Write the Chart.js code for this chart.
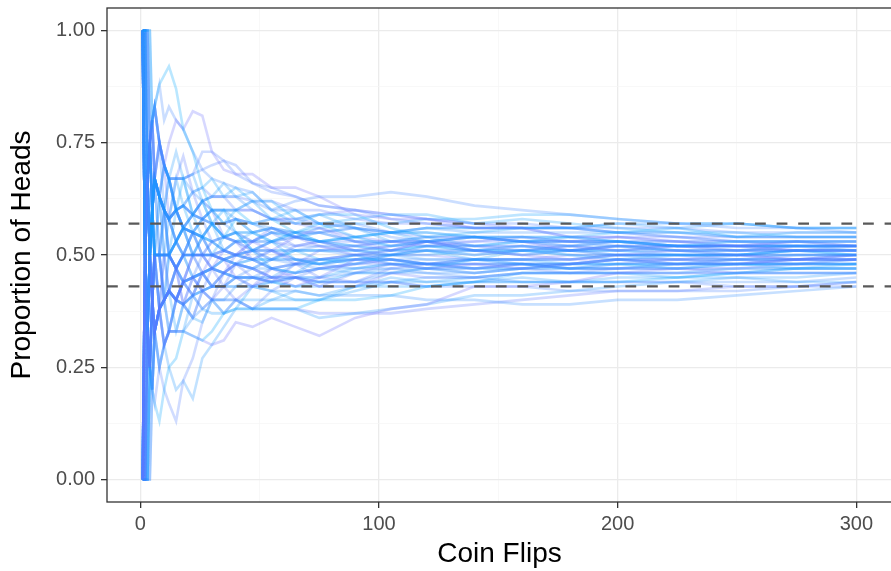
<!DOCTYPE html>
<html>
<head>
<meta charset="utf-8">
<script src="https://cdn.jsdelivr.net/npm/chart.js@4.4.1/dist/chart.umd.min.js"></script>
<style>
    html, body { margin: 0; padding: 0; background: #fff; overflow: hidden; }
    #wrap { width: 900px; height: 571px; }
</style>
</head>
<body>
<div id="wrap"><canvas id="chart" width="900" height="571"></canvas></div>
<script>
        // number of flips at which each simulated run is sampled
        const flips = [1, 2, 3, 4, 5, 6, 8, 10, 12, 15, 18, 22, 26, 30, 35, 40, 47, 55, 65, 75, 90, 105, 120, 140, 160, 180, 200, 225, 250, 275, 300];

        // proportion of heads for each run, one row per run (same order as flips)
        const walks = [
            [1,1,1,1,.8,.83,.88,.9,.92,.87,.78,.73,.65,.6,.6,.6,.57,.58,.55,.53,.54,.55,.55,.54,.54,.54,.53,.52,.53,.53,.53],
            [1,.5,.67,.75,.8,.67,.75,.7,.75,.8,.78,.82,.81,.73,.69,.68,.68,.65,.65,.63,.59,.58,.58,.56,.56,.54,.54,.53,.52,.53,.53],
            [0,0,0,.25,.2,.17,.13,.2,.25,.27,.33,.32,.31,.33,.37,.38,.38,.38,.38,.4,.4,.41,.43,.44,.44,.44,.44,.45,.46,.46,.46],
            [0,.5,.33,.25,.4,.33,.38,.3,.33,.33,.33,.32,.31,.3,.31,.35,.34,.36,.34,.32,.36,.38,.39,.43,.43,.44,.46,.46,.46,.46,.46],
            [1,.5,.33,.5,.6,.5,.5,.5,.5,.53,.56,.5,.54,.57,.54,.58,.55,.53,.55,.57,.54,.52,.53,.54,.53,.54,.55,.55,.54,.54,.54],
            [0,.5,.67,.5,.4,.5,.5,.4,.42,.4,.44,.41,.46,.5,.49,.45,.43,.45,.43,.45,.49,.48,.47,.48,.47,.48,.49,.48,.48,.49,.49],
            [1,1,.67,.75,.6,.67,.63,.7,.67,.6,.61,.55,.58,.6,.57,.6,.62,.62,.58,.59,.59,.56,.54,.55,.56,.56,.55,.56,.54,.55,.55],
            [0,0,.33,.25,.4,.5,.38,.4,.42,.47,.5,.55,.5,.47,.51,.5,.53,.51,.54,.52,.5,.51,.53,.51,.5,.49,.5,.51,.5,.49,.5],
            [1,.5,.67,.5,.6,.5,.63,.6,.58,.6,.67,.59,.62,.57,.6,.55,.51,.53,.49,.48,.5,.48,.47,.49,.48,.47,.48,.47,.48,.47,.48],
            [0,.5,.33,.5,.4,.33,.38,.5,.5,.47,.39,.36,.42,.4,.43,.4,.43,.47,.45,.43,.43,.46,.45,.45,.46,.46,.46,.47,.46,.46,.46],
            [1,1,1,.75,.8,.67,.63,.6,.58,.67,.61,.64,.65,.67,.63,.65,.62,.58,.6,.57,.58,.59,.59,.57,.58,.57,.56,.55,.55,.54,.54],
            [0,0,0,0,.2,.33,.38,.4,.42,.4,.44,.5,.46,.43,.46,.5,.53,.56,.54,.56,.53,.51,.53,.54,.53,.51,.52,.52,.52,.51,.51],
            [1,.5,.33,.25,.4,.5,.5,.4,.42,.33,.39,.36,.35,.4,.37,.38,.43,.42,.4,.4,.43,.43,.43,.44,.46,.46,.46,.45,.46,.47,.47],
            [0,.5,.67,.75,.8,.67,.63,.6,.58,.67,.72,.64,.58,.6,.54,.53,.49,.51,.48,.51,.52,.53,.52,.53,.54,.53,.54,.54,.53,.53,.52],
            [1,.5,.67,.75,.6,.5,.5,.6,.5,.6,.56,.59,.54,.5,.54,.55,.51,.47,.46,.49,.48,.5,.51,.49,.51,.5,.49,.5,.5,.51,.5],
            [0,.5,.33,.25,.4,.5,.5,.5,.42,.47,.39,.45,.42,.47,.43,.48,.45,.44,.48,.45,.44,.47,.48,.47,.48,.47,.48,.49,.48,.49,.49],
            [1,1,.67,.5,.6,.67,.63,.6,.67,.67,.67,.68,.62,.63,.66,.63,.64,.6,.57,.59,.56,.53,.54,.52,.53,.52,.53,.52,.52,.52,.52],
            [0,0,.33,.5,.4,.33,.25,.3,.33,.4,.39,.45,.42,.4,.46,.48,.51,.49,.52,.53,.51,.52,.53,.52,.51,.52,.51,.52,.51,.52,.52],
            [1,.5,.33,.5,.6,.67,.75,.7,.67,.73,.67,.59,.62,.57,.51,.53,.55,.53,.55,.53,.54,.55,.53,.51,.52,.51,.52,.51,.51,.52,.51],
            [0,0,.33,.25,.2,.17,.25,.2,.17,.13,.22,.27,.35,.4,.37,.4,.38,.42,.45,.43,.46,.48,.47,.46,.47,.46,.47,.48,.49,.48,.49],
            [1,.5,.33,.25,.2,.33,.25,.3,.25,.2,.22,.18,.27,.3,.34,.38,.38,.38,.38,.36,.37,.38,.39,.41,.41,.42,.43,.44,.45,.44,.44],
            [1,1,.67,.75,.8,.83,.75,.7,.67,.67,.67,.68,.73,.73,.71,.7,.66,.64,.63,.61,.6,.59,.58,.57,.57,.56,.56,.56,.55,.55,.55],
            [0,.5,.67,.5,.6,.5,.5,.5,.58,.53,.56,.55,.54,.57,.54,.55,.55,.56,.54,.53,.54,.55,.56,.56,.56,.56,.57,.56,.57,.56,.56],
            [1,.5,.33,.5,.4,.5,.38,.4,.42,.4,.44,.45,.46,.47,.46,.48,.47,.45,.45,.44,.44,.44,.43,.44,.44,.44,.44,.44,.43,.43,.43],
            [0,.5,.33,.5,.6,.67,.63,.6,.5,.53,.5,.5,.54,.53,.51,.5,.51,.49,.51,.51,.51,.5,.51,.5,.51,.5,.5,.5,.5,.5,.5],
            [1,.5,.67,.75,.6,.67,.5,.5,.5,.47,.44,.45,.46,.43,.43,.45,.45,.44,.45,.47,.48,.48,.48,.49,.48,.48,.49,.49,.49,.49,.49],
            [0,0,0,.25,.4,.5,.5,.5,.5,.53,.56,.59,.58,.6,.6,.58,.57,.56,.54,.55,.53,.52,.52,.51,.5,.51,.5,.5,.49,.49,.5],
            [1,1,1,.75,.6,.5,.5,.5,.5,.47,.5,.5,.5,.53,.51,.53,.53,.55,.55,.55,.53,.53,.54,.54,.53,.53,.53,.52,.52,.53,.52],
            [0,.5,.67,.75,.6,.67,.75,.7,.67,.6,.56,.55,.5,.5,.49,.48,.47,.47,.46,.47,.46,.47,.47,.47,.47,.48,.48,.48,.48,.48,.48],
            [1,.5,.67,.5,.4,.5,.5,.6,.58,.6,.61,.59,.58,.6,.6,.6,.62,.6,.62,.63,.63,.64,.63,.61,.6,.59,.58,.57,.56,.56,.55],
            [0,0,.33,.5,.4,.5,.38,.4,.42,.47,.44,.41,.42,.43,.43,.45,.43,.42,.42,.41,.41,.41,.4,.4,.39,.39,.4,.4,.41,.42,.43],
            [1,.5,.33,.5,.6,.5,.5,.4,.5,.47,.5,.55,.54,.5,.51,.53,.51,.51,.49,.48,.49,.5,.52,.52,.52,.51,.51,.52,.51,.51,.51],
            [0,.5,.67,.5,.4,.33,.38,.4,.42,.4,.39,.41,.46,.47,.49,.5,.49,.51,.51,.51,.5,.51,.51,.51,.51,.52,.52,.52,.52,.52,.52],
            [1,1,.67,.5,.6,.67,.63,.5,.5,.53,.5,.45,.46,.47,.46,.45,.45,.47,.48,.47,.48,.49,.48,.48,.48,.47,.47,.47,.47,.47,.47],
            [0,0,.33,.25,.4,.33,.38,.5,.5,.53,.56,.55,.58,.57,.57,.55,.53,.53,.51,.52,.52,.53,.53,.54,.53,.53,.52,.52,.52,.52,.52],
            [1,.5,.67,.75,.8,.83,.75,.6,.58,.6,.56,.5,.5,.5,.49,.5,.49,.47,.48,.49,.49,.49,.49,.49,.49,.49,.5,.49,.49,.5,.5],
            [0,.5,.33,.25,.2,.33,.38,.4,.33,.4,.44,.45,.42,.43,.46,.45,.47,.49,.48,.48,.47,.47,.46,.45,.44,.44,.44,.44,.44,.44,.45],
            [1,1,1,1,.8,.83,.75,.7,.67,.6,.61,.59,.58,.57,.54,.53,.53,.53,.54,.53,.52,.51,.51,.5,.51,.51,.52,.51,.51,.51,.51],
            [0,0,0,.25,.2,.33,.38,.3,.33,.33,.39,.41,.46,.43,.43,.43,.43,.44,.45,.45,.46,.46,.47,.47,.48,.48,.49,.49,.49,.49,.49],
            [1,.5,.67,.75,.8,.67,.63,.6,.67,.67,.67,.64,.62,.63,.63,.63,.6,.58,.57,.57,.56,.55,.56,.55,.55,.55,.55,.54,.53,.53,.53],
            [1,1,.67,.75,.8,.83,.88,.8,.83,.8,.78,.73,.69,.67,.66,.65,.64,.6,.6,.57,.57,.55,.55,.54,.54,.54,.53,.53,.52,.52,.52],
            [0,.5,.33,.5,.6,.5,.38,.4,.42,.4,.39,.36,.38,.4,.4,.43,.45,.45,.45,.44,.44,.46,.46,.46,.47,.47,.47,.47,.48,.48,.48],
            [1,.5,.33,.5,.4,.5,.63,.6,.58,.53,.56,.59,.58,.57,.57,.58,.55,.56,.55,.55,.56,.54,.53,.54,.54,.53,.53,.53,.53,.53,.53],
            [0,0,.33,.5,.6,.5,.5,.5,.42,.47,.5,.5,.46,.47,.49,.48,.47,.49,.49,.49,.5,.5,.49,.49,.49,.49,.5,.5,.5,.5,.5],
            [1,.5,.33,.25,.4,.33,.38,.3,.33,.4,.44,.5,.5,.5,.49,.48,.47,.45,.45,.44,.44,.44,.43,.43,.43,.42,.42,.42,.42,.43,.44],
            [0,.5,.67,.75,.8,.83,.75,.7,.67,.6,.61,.59,.62,.6,.57,.58,.57,.55,.54,.55,.56,.55,.56,.56,.56,.56,.57,.57,.57,.56,.56],
            [1,1,.67,.5,.4,.5,.5,.5,.5,.47,.44,.45,.5,.5,.51,.5,.51,.53,.54,.53,.51,.5,.51,.51,.5,.51,.5,.5,.5,.51,.51],
            [0,0,0,.25,.4,.33,.38,.4,.33,.33,.33,.36,.42,.43,.46,.45,.45,.45,.48,.48,.49,.49,.48,.48,.48,.48,.49,.48,.48,.48,.49],
            [1,.5,.67,.75,.6,.67,.63,.7,.67,.67,.67,.68,.69,.7,.71,.68,.66,.65,.63,.61,.6,.58,.57,.56,.56,.54,.54,.53,.53,.52,.52],
            [0,.5,.67,.5,.6,.67,.5,.5,.5,.47,.5,.5,.5,.47,.46,.48,.49,.47,.46,.47,.47,.48,.48,.47,.48,.48,.48,.48,.48,.49,.49],
            [1,.5,.67,.5,.6,.67,.63,.6,.58,.6,.56,.55,.58,.53,.54,.55,.53,.55,.52,.52,.51,.52,.53,.51,.52,.51,.52,.51,.51,.51,.51],
            [0,0,.33,.25,.2,.33,.25,.3,.33,.33,.33,.41,.42,.4,.4,.4,.4,.4,.42,.41,.43,.45,.44,.44,.45,.44,.45,.45,.45,.45,.46],
            [1,1,1,.75,.8,.83,.75,.7,.67,.6,.61,.64,.65,.63,.63,.6,.6,.58,.58,.57,.56,.55,.54,.54,.53,.53,.53,.52,.52,.52,.52],
            [0,.5,.33,.5,.4,.5,.5,.4,.42,.4,.44,.41,.42,.43,.43,.45,.45,.44,.43,.43,.43,.44,.45,.45,.46,.46,.46,.46,.46,.47,.47],
            [1,.5,.33,.5,.6,.67,.63,.6,.5,.53,.56,.5,.5,.53,.54,.53,.51,.53,.52,.53,.53,.53,.53,.52,.52,.52,.51,.51,.51,.51,.51],
            [0,0,0,.25,.4,.33,.38,.3,.33,.4,.39,.41,.38,.37,.37,.4,.38,.4,.4,.4,.42,.44,.44,.45,.46,.46,.46,.46,.47,.47,.47],
            [1,1,.67,.75,.6,.5,.5,.6,.58,.6,.61,.59,.62,.63,.63,.63,.62,.62,.6,.6,.58,.57,.57,.56,.56,.56,.55,.54,.54,.54,.54],
            [0,.5,.67,.75,.6,.67,.63,.5,.5,.47,.44,.45,.46,.47,.49,.48,.49,.49,.49,.48,.49,.49,.48,.47,.47,.47,.47,.48,.48,.48,.48],
            [1,.5,.67,.75,.8,.67,.63,.6,.58,.53,.5,.5,.54,.57,.57,.58,.57,.58,.57,.56,.54,.53,.53,.53,.53,.52,.53,.52,.52,.51,.52],
            [0,0,.33,.5,.4,.33,.38,.4,.42,.4,.44,.45,.46,.47,.46,.45,.45,.44,.45,.45,.47,.48,.48,.49,.49,.48,.49,.48,.49,.49,.49],
            [1,.5,.33,.25,.4,.33,.38,.4,.42,.4,.39,.41,.38,.4,.4,.4,.38,.38,.38,.37,.37,.37,.38,.39,.4,.41,.42,.42,.43,.43,.44],
            [0,.5,.67,.5,.6,.67,.63,.6,.58,.6,.56,.55,.54,.57,.54,.55,.55,.56,.55,.56,.57,.57,.58,.58,.59,.59,.58,.57,.57,.56,.56],
            [1,1,.67,.5,.6,.5,.5,.4,.42,.4,.44,.5,.5,.5,.51,.5,.49,.47,.48,.49,.5,.5,.5,.49,.49,.5,.5,.5,.5,.5,.5],
            [0,0,.33,.5,.6,.67,.63,.6,.58,.53,.5,.55,.54,.53,.51,.5,.51,.51,.51,.49,.49,.5,.5,.51,.51,.51,.51,.5,.5,.51,.51],
            [1,.5,.67,.75,.6,.67,.75,.7,.58,.6,.56,.59,.62,.6,.6,.6,.6,.58,.58,.59,.6,.59,.58,.57,.56,.56,.55,.55,.54,.54,.54],
            [0,.5,.33,.25,.4,.5,.38,.4,.42,.47,.5,.45,.46,.43,.43,.43,.43,.44,.43,.44,.46,.46,.47,.46,.47,.48,.48,.48,.48,.48,.48],
            [1,.5,.33,.5,.6,.67,.63,.7,.67,.6,.56,.55,.54,.5,.49,.5,.51,.51,.49,.49,.5,.49,.48,.48,.48,.47,.47,.47,.47,.48,.48],
            [0,0,0,0,.2,.33,.38,.4,.5,.47,.5,.55,.54,.53,.54,.53,.53,.55,.54,.53,.52,.51,.52,.52,.53,.53,.53,.52,.52,.52,.52],
            [1,1,1,.75,.6,.67,.63,.6,.5,.47,.5,.5,.5,.47,.46,.48,.47,.45,.46,.47,.48,.49,.48,.49,.49,.49,.49,.49,.5,.49,.5],
            [0,.5,.67,.5,.4,.5,.5,.5,.5,.53,.56,.55,.5,.5,.49,.5,.49,.49,.51,.51,.51,.51,.52,.51,.51,.51,.51,.51,.5,.51,.5]
        ];

        // dashed reference lines
        const refLines = [0.43, 0.57];

        // axis ticks
        const xMajor = [0, 100, 200, 300];
        const xMinor = [50, 150, 250];
        const yMajor = [0, 0.25, 0.5, 0.75, 1];
        const yMinor = [0.125, 0.375, 0.625, 0.875];

        const lowColor = [0, 165, 255];
        const highColor = [110, 110, 255];

        function walkColor(i) {
            // alternate between the two ends so both hues are spread through the bundle
            const t = (i % 2 === 0 ? i : walks.length - i) / walks.length;
            const c = lowColor.map((v, k) => Math.round(v + (highColor[k] - v) * t));
            return `rgba(${c[0]}, ${c[1]}, ${c[2]}, 0.27)`;
        }

        const datasets = walks.map((w, i) => ({
            data: flips.map((n, j) => ({ x: n, y: w[j] })),
            borderColor: walkColor(i),
            borderWidth: 2.6,
            pointRadius: 0,
            fill: false,
            tension: 0
        }));

        function isMinor(list, ctx) {
            return ctx.tick && list.includes(ctx.tick.value);
        }

        // dashed lines + panel border on top of the runs
        const overlay = {
            id: 'overlay',
            afterDatasetsDraw(chart) {
                const ctx = chart.ctx;
                const area = chart.chartArea;
                const y = chart.scales.y;
                ctx.save();
                ctx.strokeStyle = '#595959';
                ctx.lineWidth = 2.2;
                ctx.setLineDash([10.8, 10.8]);
                refLines.forEach(v => {
                    const py = y.getPixelForValue(v);
                    ctx.beginPath();
                    ctx.moveTo(area.left, py);
                    ctx.lineTo(area.right, py);
                    ctx.stroke();
                });
                ctx.setLineDash([]);
                ctx.strokeStyle = '#333333';
                ctx.lineWidth = 1.3;
                ctx.strokeRect(area.left, area.top, area.right - area.left, area.bottom - area.top);
                ctx.restore();
            }
        };

        const font = 'Liberation Sans, Arial, sans-serif';

        new Chart(document.getElementById('chart'), {
            type: 'line',
            data: { datasets: datasets },
            plugins: [overlay],
            options: {
                responsive: false,
                animation: false,
                devicePixelRatio: 1,
                layout: { padding: { top: 8, right: 8, left: 0, bottom: 0 } },
                plugins: { legend: { display: false }, tooltip: { enabled: false } },
                scales: {
                    x: {
                        type: 'linear',
                        min: -13.95,
                        max: 314.95,
                        afterBuildTicks: s => { s.ticks = [...xMajor, ...xMinor].sort((a, b) => a - b).map(v => ({ value: v })); },
                        afterFit: s => { s.height = 69; s.paddingLeft = 0; s.paddingRight = 0; },
                        border: { display: false },
                        grid: {
                            color: ctx => isMinor(xMinor, ctx) ? '#f5f5f5' : '#ebebeb',
                            lineWidth: ctx => isMinor(xMinor, ctx) ? 0.7 : 1.3,
                            tickColor: ctx => isMinor(xMinor, ctx) ? 'rgba(0,0,0,0)' : '#333333',
                            tickLength: 6,
                            tickWidth: 1.3
                        },
                        ticks: {
                            autoSkip: false,
                            maxRotation: 0,
                            padding: 4,
                            color: '#4d4d4d',
                            font: { family: font, size: 20 },
                            callback: v => xMajor.includes(v) ? String(v) : ''
                        },
                        title: {
                            display: true,
                            text: 'Coin Flips',
                            color: '#000',
                            font: { family: font, size: 28 },
                            padding: { top: 0, bottom: 0 }
                        }
                    },
                    y: {
                        type: 'linear',
                        min: -0.05,
                        max: 1.05,
                        afterBuildTicks: s => { s.ticks = [...yMajor, ...yMinor].sort((a, b) => a - b).map(v => ({ value: v })); },
                        afterFit: s => { s.width = 107; s.paddingTop = 0; s.paddingBottom = 0; },
                        border: { display: false },
                        grid: {
                            color: ctx => isMinor(yMinor, ctx) ? '#f5f5f5' : '#ebebeb',
                            lineWidth: ctx => isMinor(yMinor, ctx) ? 0.7 : 1.3,
                            tickColor: ctx => isMinor(yMinor, ctx) ? 'rgba(0,0,0,0)' : '#333333',
                            tickLength: 6,
                            tickWidth: 1.3
                        },
                        ticks: {
                            autoSkip: false,
                            padding: 6,
                            color: '#4d4d4d',
                            font: { family: font, size: 20 },
                            callback: v => yMajor.includes(v) ? v.toFixed(2) : ''
                        },
                        title: {
                            display: true,
                            text: 'Proportion of Heads',
                            color: '#000',
                            font: { family: font, size: 28 },
                            padding: { top: 5, bottom: 0 }
                        }
                    }
                }
            }
        });
</script>
</body>
</html>
